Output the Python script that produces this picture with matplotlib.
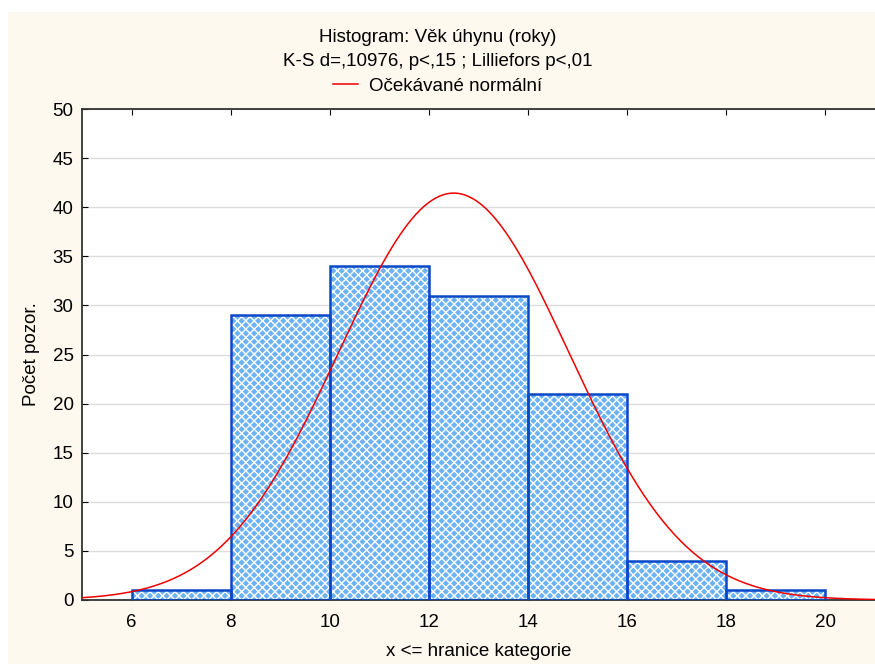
import numpy as np
import matplotlib
matplotlib.use("Agg")
import matplotlib.pyplot as plt
from matplotlib.patches import Rectangle

plt.rcParams['font.family'] = ['Liberation Sans', 'DejaVu Sans']
plt.rcParams['hatch.linewidth'] = 1.0

# histogram data
bin_edges = [6, 8, 10, 12, 14, 16, 18, 20]
counts = [1, 29, 34, 31, 21, 4, 1]

# expected normal parameters
mean = 12.5
sd = 2.33
n_total = sum(counts)

fs = 13.5

fig = plt.figure(figsize=(8.75, 6.64), dpi=100)
fig.patches.append(Rectangle((8 / 875, 0), 1, 1 - 12 / 664, transform=fig.transFigure,
                             facecolor='#fef9ee', edgecolor='none', zorder=-10))

ax = fig.add_axes([82 / 875, 64 / 664, 793 / 875, 491 / 664])
ax.set_facecolor('white')

lefts = bin_edges[:-1]
widths = np.diff(bin_edges)
ax.bar(lefts, counts, width=widths, align='edge', color='#6cb2f6',
       edgecolor='white', hatch='xxxx', linewidth=0, zorder=2)
ax.bar(lefts, counts, width=widths, align='edge', fill=False,
       edgecolor='#0a48c8', linewidth=1.8, zorder=3)

bw = bin_edges[1] - bin_edges[0]
xs = np.linspace(5, 21, 400)
ys = n_total * bw / (sd * np.sqrt(2 * np.pi)) * np.exp(-(xs - mean) ** 2 / (2 * sd ** 2))
ax.plot(xs, ys, color='#ee0000', lw=1.1, zorder=4, label='Očekávané normální')

ax.set_xlim(5, 21)
ax.set_ylim(0, 50)
ax.set_xticks(range(6, 21, 2))
ax.set_yticks(range(0, 51, 5))
ax.yaxis.grid(True, color='#dcdcdc', lw=1, zorder=0)
ax.set_axisbelow(True)
ax.tick_params(labelsize=fs, direction='in', length=4, top=True, right=False)
ax.tick_params(axis='x', pad=10)
ax.tick_params(axis='y', pad=6)
for s in ['left', 'bottom', 'top']:
    ax.spines[s].set_linewidth(1.3)
    ax.spines[s].set_color('#333333')
ax.spines['right'].set_visible(False)

ax.set_xlabel('x <= hranice kategorie', fontsize=fs, labelpad=9)
ax.set_ylabel('Počet pozor.', fontsize=fs)
ax.yaxis.set_label_coords(-(82 - 40) / 793, 0.5)

fig.text(0.5, 1 - 37 / 664, 'Histogram: Věk úhynu (roky)', ha='center', va='center', fontsize=fs)
fig.text(0.5, 1 - 62 / 664, 'K-S d=,10976, p<,15 ; Lilliefors p<,01', ha='center', va='center', fontsize=fs)
fig.legend(loc='center', bbox_to_anchor=(0.5, 1 - 86 / 664), frameon=False, fontsize=fs,
           handlelength=1.3, handletextpad=0.6)

fig.savefig('out.png', dpi=100)
